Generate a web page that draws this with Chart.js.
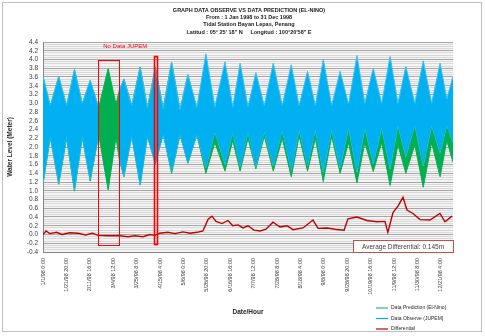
<!DOCTYPE html>
<html>
<head>
<meta charset="utf-8">
<script src="https://cdn.jsdelivr.net/npm/chart.js@4.4.1/dist/chart.umd.min.js"></script>
<style>
  html, body { margin: 0; padding: 0; background: #fff; }
  #wrap { width: 485px; height: 336px; }
</style>
</head>
<body>
<div id="wrap"><canvas id="tideChart" width="485" height="336"></canvas></div>
<script>
// spring / neap turning points of the tide band (day of year 1998)
var tideDays = [0, 6.5, 14, 21, 28, 35, 42, 49, 50, 58, 65, 68, 72, 79, 86.5, 93, 100, 107, 114.5, 122,
  129, 137, 145, 153, 162, 169, 175.5, 182.5, 189.5, 197, 205, 213, 221, 228, 235.5, 242.5, 249.5, 257,
  264.5, 272, 279.5, 286.5, 294, 301.5, 309, 316, 323, 331, 338.5, 346, 353.5, 359.5, 365];

// Data Observe (JUPEM) - upper and lower edge of the band, null = no data
var observeHigh = [3.62, 2.95, 3.62, 2.95, 3.78, 3.0, 3.53, 2.95, null, null, null, 3.3, 3.56, 2.95, 3.82, 2.9, 3.8, 2.88, 3.94, 2.85,
  3.65, 2.9, 4.13, 2.92, 3.95, 2.92, 3.92, 2.92, 3.7, 2.95, 3.92, 2.95, 3.88, 2.95, 3.73, 2.95, 4.0, 2.95,
  3.73, 2.98, 4.09, 3.0, 3.8, 3.0, 4.07, 3.0, 3.84, 3.0, 3.97, 3.0, 3.92, 3.1, 3.62];
var observeLow = [1.18, 2.25, 1.18, 2.25, 1.02, 2.25, 1.26, 2.2, null, null, null, 1.75, 1.34, 2.25, 1.13, 2.25, 1.6, 2.3, 1.45, 2.3,
  1.63, 2.3, 1.52, 2.35, 1.6, 2.35, 1.55, 2.35, 1.55, 2.35, 1.57, 2.38, 1.47, 2.4, 1.58, 2.4, 1.42, 2.4,
  1.52, 2.45, 1.42, 2.45, 1.62, 2.45, 1.5, 2.5, 1.78, 2.5, 1.57, 2.5, 1.87, 2.5, 2.1];

// Data Prediction (El-Nino)
var predictHigh = [3.6, 2.93, 3.6, 2.93, 3.76, 2.98, 3.5, 2.95, 2.95, 3.79, 2.98, 3.3, 3.55, 2.95, 3.83, 2.9, 3.82, 2.88, 3.94, 2.85,
  3.65, 2.88, 4.0, 2.7, 3.7, 2.7, 3.75, 2.75, 3.6, 2.85, 3.7, 2.8, 3.7, 2.8, 3.6, 2.75, 3.85, 2.8,
  3.6, 2.7, 3.75, 2.7, 3.5, 2.7, 3.7, 2.55, 3.35, 2.6, 3.6, 2.65, 3.5, 2.7, 3.2];
var predictLow = [1.15, 2.22, 1.15, 2.2, 0.99, 2.22, 1.22, 2.2, 2.22, 1.02, 2.22, 1.7, 1.32, 2.25, 1.13, 2.25, 1.62, 2.3, 1.4, 2.28,
  1.63, 2.28, 1.4, 2.1, 1.45, 2.15, 1.45, 2.2, 1.5, 2.25, 1.45, 2.2, 1.32, 2.25, 1.45, 2.2, 1.21, 2.25,
  1.4, 2.1, 1.18, 2.1, 1.44, 2.1, 1.12, 2.05, 1.4, 2.05, 1.08, 2.1, 1.32, 2.15, 1.65];

// Differential
var diffDays = [0, 2.7, 6, 12, 17, 24, 31, 38, 44, 49, 58, 68.5, 75.7, 82, 89, 95, 99.7, 104, 111, 117.5,
  124.6, 131, 137, 142.4, 147, 150.4, 154, 159.3, 164.7, 169, 173.6, 178, 182.5, 187.8, 193.2, 198.5, 204.7,
  211, 217.2, 222.6, 231.5, 240.4, 244.8, 252.8, 260, 268, 271.5, 279.5, 288.4, 297.3, 304.4, 307, 311.6,
  316, 320.5, 324, 329.4, 335.6, 344.5, 353.4, 357.9, 364.1];
var diffValues = [0.0, 0.08, 0.02, 0.05, 0.0, 0.04, 0.03, -0.01, 0.03, -0.02, -0.03, -0.03, -0.05, -0.03, -0.05, 0.0, -0.02, 0.03, 0.05, 0.02,
  0.06, 0.03, 0.05, 0.08, 0.35, 0.42, 0.3, 0.25, 0.32, 0.2, 0.22, 0.15, 0.2, 0.1, 0.08, 0.12, 0.28,
  0.17, 0.2, 0.11, 0.15, 0.33, 0.14, 0.15, 0.12, 0.1, 0.36, 0.4, 0.32, 0.29, 0.3, 0.05, 0.5,
  0.65, 0.85, 0.56, 0.48, 0.34, 0.33, 0.48, 0.29, 0.42];

var xTickHours = [0, 500, 1000, 1500, 2000, 2500, 3000, 3500, 4000, 4500, 5000, 5500, 6000, 6500, 7000, 7500, 8000, 8500];
var xTickLabels = ['1/1/98 0:00', '1/21/98 20:00', '2/11/98 16:00', '3/4/98 12:00', '3/25/98 8:00', '4/15/98 4:00',
  '5/6/98 0:00', '5/26/98 20:00', '6/16/98 16:00', '7/7/98 12:00', '7/28/98 8:00', '8/18/98 4:00', '9/8/98 0:00',
  '9/28/98 20:00', '10/19/98 16:00', '11/9/98 12:00', '11/30/98 8:00', '12/21/98 4:00'];

// red boxes: no JUPEM data (days) and the level of the box top
var noDataFrom = [49.2, 99.1];
var noDataTo = [67.9, 101.5];
var noDataTop = [4.0, 4.08];

var titleLines = ['GRAPH DATA OBSERVE VS DATA PREDICTION (EL-NINO)', 'From : 1 Jan 1998 to 31 Dec 1998',
  'Tidal Station Bayan Lepas, Penang', 'Latitud : 05\u00b0 25\' 18" N     Longitud : 100\u00b020\'58" E'];

var cyan = '#00b0f0', green = '#00b050', darkRed = '#c00000';
var fontName = '"Liberation Sans", Arial, sans-serif';

// split a series into runs without gaps
function runs(days, values) {
  var out = [], cur = [];
  days.forEach(function(d, i) {
    if (values[i] === null) {
      if (cur.length) out.push(cur);
      cur = [];
    } else {
      cur.push({ x: d * 24, y: values[i] });
    }
  });
  if (cur.length) out.push(cur);
  return out;
}

function bandDatasets(label, days, hi, lo, fillColor, edgeColor) {
  var his = runs(days, hi), los = runs(days, lo), sets = [];
  his.forEach(function(run, k) {
    sets.push({ label: label, data: run, borderColor: edgeColor, backgroundColor: fillColor,
      borderWidth: 1, fill: '+1', pointRadius: 0 });
    sets.push({ label: label + ' low', data: los[k], borderColor: edgeColor,
      borderWidth: 1, fill: false, pointRadius: 0 });
  });
  return sets;
}

var extras = {
  id: 'extras',
  beforeDraw: function(chart) {
    var a = chart.chartArea, ctx = chart.ctx;
    ctx.save();
    ctx.fillStyle = '#ffffff';
    ctx.fillRect(0, 0, chart.width, chart.height);
    ctx.fillStyle = '#f4f4f4';
    ctx.fillRect(a.left, a.top, a.right - a.left, a.bottom - a.top);
    ctx.restore();
  },
  afterDraw: function(chart) {
    var ctx = chart.ctx, a = chart.chartArea;
    var xs = chart.scales.x, ys = chart.scales.y;
    ctx.save();

    // outer frame
    ctx.strokeStyle = '#bfbfbf';
    ctx.lineWidth = 1;
    ctx.strokeRect(2.5, 2.5, 479, 329);

    // title
    ctx.fillStyle = '#1a1a1a';
    ctx.textAlign = 'center';
    ctx.textBaseline = 'middle';
    ctx.font = 'bold 5.5px ' + fontName;
    titleLines.forEach(function(t, i) { ctx.fillText(t, 249, 10 + i * 7.4); });

    // axis titles
    ctx.font = 'bold 6.5px ' + fontName;
    ctx.fillStyle = '#262626';
    ctx.fillText('Date/Hour', (a.left + a.right) / 2, 312);
    ctx.save();
    ctx.translate(10, (a.top + a.bottom) / 2);
    ctx.rotate(-Math.PI / 2);
    ctx.fillText('Water Level (Meter)', 0, 0);
    ctx.restore();

    // no data boxes
    ctx.strokeStyle = '#ff0000';
    var boxBottom = ys.getPixelForValue(-0.22);
    noDataFrom.forEach(function(f, i) {
      var l = xs.getPixelForValue(f * 24), r = xs.getPixelForValue(noDataTo[i] * 24);
      var t = ys.getPixelForValue(noDataTop[i]);
      ctx.lineWidth = i === 0 ? 1 : 1.6;
      ctx.strokeRect(Math.round(l) + 0.5, Math.round(t) + 0.5, Math.round(r - l), Math.round(boxBottom - t));
    });
    ctx.fillStyle = '#ff0000';
    ctx.textAlign = 'left';
    ctx.font = '6px ' + fontName;
    ctx.fillText('No Data JUPEM', xs.getPixelForValue(noDataFrom[0] * 24) + 5, 46);

    // average differential box
    ctx.fillStyle = '#ffffff';
    ctx.fillRect(353, 240, 100, 13);
    ctx.strokeStyle = '#c0504d';
    ctx.lineWidth = 1;
    ctx.strokeRect(353.5, 240.5, 100, 12);
    ctx.fillStyle = '#404040';
    ctx.textAlign = 'center';
    ctx.font = '6.5px ' + fontName;
    ctx.fillText('Average Differential: 0.145m', 403, 247);

    // legend
    var items = [['Data Prediction (El-Nino)', '#2fb38a'], ['Data Observe (JUPEM)', cyan], ['Differential', darkRed]];
    ctx.textAlign = 'left';
    ctx.font = '5px ' + fontName;
    items.forEach(function(it, i) {
      var y = 308 + i * 10.5;
      ctx.strokeStyle = it[1];
      ctx.lineWidth = 1.2;
      ctx.beginPath();
      ctx.moveTo(376, y);
      ctx.lineTo(388, y);
      ctx.stroke();
      ctx.fillStyle = '#262626';
      ctx.fillText(it[0], 391, y);
    });
    ctx.restore();
  }
};

var datasets = bandDatasets('Data Observe (JUPEM)', tideDays, observeHigh, observeLow, cyan, '#3cc0f2')
  .concat(bandDatasets('Data Prediction (El-Nino)', tideDays, predictHigh, predictLow, green, green));
datasets.push({ label: 'Differential', data: runs(diffDays, diffValues)[0], borderColor: darkRed, borderWidth: 1.4,
  fill: false, pointRadius: 0 });

new Chart(document.getElementById('tideChart'), {
  type: 'line',
  data: { datasets: datasets },
  options: {
    responsive: false,
    animation: false,
    devicePixelRatio: 1,
    layout: { padding: { left: 0, right: 32, top: 42, bottom: 0 } },
    plugins: { legend: { display: false }, tooltip: { enabled: false } },
    scales: {
      x: {
        type: 'linear', min: 0, max: 8760,
        afterBuildTicks: function(s) { s.ticks = xTickHours.map(function(v) { return { value: v }; }); },
        afterFit: function(s) { s.height = 84; },
        grid: { display: false, drawTicks: false },
        border: { color: '#868686' },
        ticks: {
          autoSkip: false, minRotation: 90, maxRotation: 90, padding: 6, color: '#404040',
          font: { family: fontName, size: 5.5 },
          callback: function(v, i) { return xTickLabels[i]; }
        }
      },
      y: {
        min: -0.4, max: 4.4,
        afterFit: function(s) { s.width = 43; },
        border: { color: '#868686' },
        grid: {
          drawTicks: false,
          color: function(c) {
            var v = c.tick.value * 5;
            return Math.abs(v - Math.round(v)) < 1e-6 ? '#a6a6a6' : '#d9d9d9';
          }
        },
        ticks: {
          stepSize: 0.05, autoSkip: false, padding: 5, color: '#404040',
          font: { family: fontName, size: 6.5 },
          callback: function(v) {
            var r = Math.round(v * 5);
            return Math.abs(v * 5 - r) < 1e-6 ? (r / 5).toFixed(1) : '';
          }
        }
      }
    }
  },
  plugins: [extras]
});
</script>
</body>
</html>
